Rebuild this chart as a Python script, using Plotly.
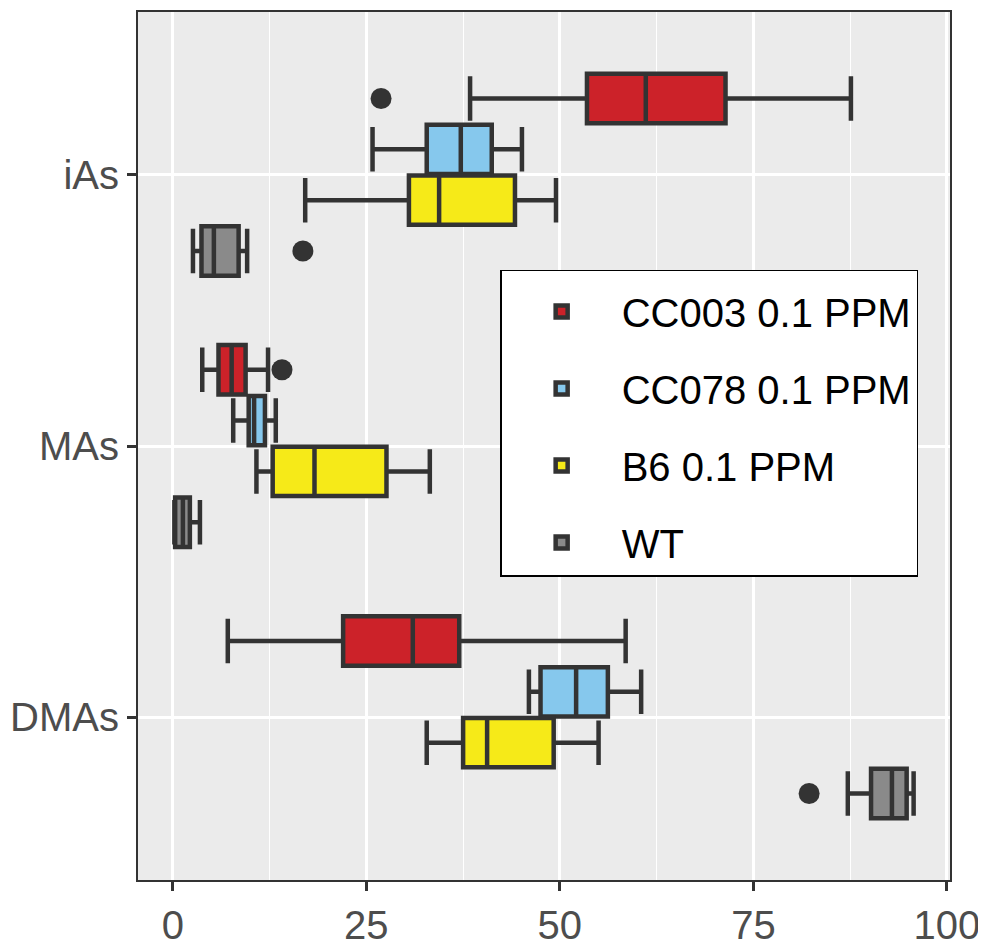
import plotly.graph_objects as go

# ---- data ----
categories = ["iAs", "MAs", "DMAs"]
groups = ["CC003 0.1 PPM", "CC078 0.1 PPM", "B6 0.1 PPM", "WT"]
colors = ["#CC2229", "#86C8ED", "#F6EA18", "#8A8A8A"]

# each row: one group, values for iAs, MAs, DMAs
lower_whisker = [[38.4, 3.8, 7.1], [25.8, 7.8, 46.0], [17.1, 10.8, 32.8], [2.6, 0.2, 87.2]]
q1_values = [[53.5, 5.9, 22.0], [32.8, 9.8, 47.5], [30.5, 12.9, 37.5], [3.7, 0.3, 90.2]]
median_values = [[61.1, 7.6, 31.0], [37.2, 10.5, 52.1], [34.4, 18.3, 40.6], [5.3, 1.3, 92.9]]
q3_values = [[71.4, 9.4, 37.0], [41.2, 11.9, 56.2], [44.2, 27.6, 49.2], [8.5, 2.2, 94.8]]
upper_whisker = [[87.6, 12.3, 58.5], [45.1, 13.3, 60.5], [49.5, 33.2, 55.0], [9.6, 3.5, 95.7]]

outlier_group = [0, 3, 0, 3]
outlier_category = [0, 0, 1, 2]
outlier_value = [26.9, 16.8, 14.1, 82.2]

# ---- layout helpers ----
dodge_width = 0.75
box_w = dodge_width / len(groups)
offsets = [-dodge_width / 2 + box_w * (i + 0.5) for i in range(len(groups))]

fig = go.Figure()
for i, g in enumerate(groups):
    fig.add_trace(go.Box(
        name=g,
        legendgroup=g,
        orientation="h",
        y=[j + offsets[i] for j in range(len(categories))],
        lowerfence=lower_whisker[i],
        q1=q1_values[i],
        median=median_values[i],
        q3=q3_values[i],
        upperfence=upper_whisker[i],
        width=box_w * 0.97,
        whiskerwidth=0.9,
        fillcolor=colors[i],
        line=dict(color="#333333", width=4.5),
        boxpoints=False,
        hoverinfo="skip",
    ))

fig.add_trace(go.Scatter(
    x=outlier_value,
    y=[outlier_category[k] + offsets[outlier_group[k]] for k in range(len(outlier_value))],
    mode="markers",
    marker=dict(color="#333333", size=21),
    showlegend=False,
    hoverinfo="skip",
))

tick_font = dict(family="Liberation Sans, Arial, sans-serif", size=40, color="#4D4D4D")

fig.update_layout(
    width=978, height=938,
    margin=dict(l=130, r=36, t=4, b=66),
    paper_bgcolor="white",
    plot_bgcolor="#EBEBEB",
    boxmode="overlay",
    showlegend=True,
    legend=dict(
        x=0.446, y=0.703, xanchor="left", yanchor="top",
        bgcolor="white", bordercolor="black", borderwidth=1.5,
        font=dict(family="Liberation Sans, Arial, sans-serif", size=40, color="black"),
        title=dict(text=" ", font=dict(size=6)),
        tracegroupgap=22,
        itemwidth=110,
    ),
    xaxis=dict(
        range=[-4.5, 100.4],
        tickvals=[0, 25, 50, 75, 100],
        ticks="outside", ticklen=9, tickwidth=2.5, tickcolor="#333333",
        tickfont=tick_font,
        showline=True, mirror=True, linecolor="#333333", linewidth=2,
        showgrid=True, gridcolor="white", gridwidth=2.5,
        minor=dict(dtick=12.5, showgrid=True, gridcolor="white", gridwidth=1.2),
        zeroline=False,
        automargin=False,
    ),
    yaxis=dict(
        range=[2.6, -0.6],
        tickvals=list(range(len(categories))),
        ticktext=categories,
        ticks="outside", ticklen=9, tickwidth=2.5, tickcolor="#333333",
        tickfont=tick_font,
        showline=True, mirror=True, linecolor="#333333", linewidth=2,
        showgrid=True, gridcolor="white", gridwidth=2.5,
        zeroline=False,
        automargin=False,
    ),
)

fig.write_html("out.html")
